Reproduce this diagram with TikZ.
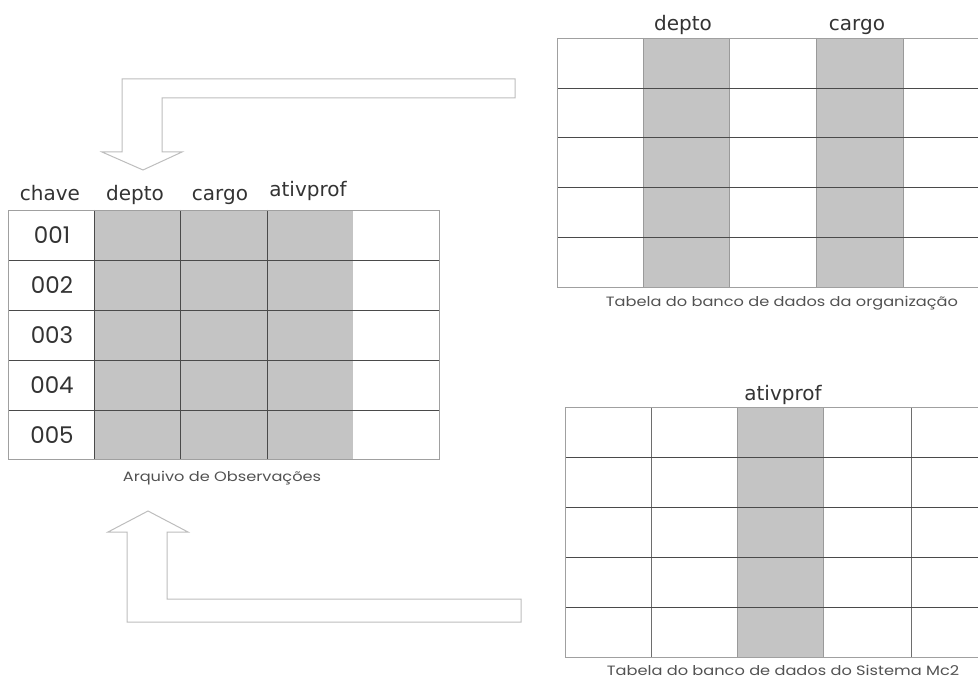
\documentclass[tikz,border=0pt]{standalone}
\usepackage{fontspec}
\setmainfont{Poppins}
\newfontfamily\hdrfont{DejaVu Sans}
\definecolor{cellgray}{HTML}{C4C4C4}
\definecolor{gridline}{HTML}{4A4A4A}
\definecolor{frameline}{HTML}{A0A0A0}
\definecolor{edgeline}{HTML}{9A9A9A}
\definecolor{arrowline}{HTML}{BDBDBD}
\definecolor{txt}{HTML}{333333}
\newcommand{\widecap}[1]{\scalebox{1.2}[1.0]{#1}}
\tikzset{
  inner/.style={draw=gridline, line width=0.9pt},
  frame/.style={draw=frameline, line width=0.9pt},
  grayedge/.style={draw=edgeline, line width=0.9pt},
  hdr/.style={font=\hdrfont\fontsize{20}{24}\selectfont, text=txt, anchor=base, inner sep=0pt},
  keytext/.style={font=\fontsize{23}{26}\selectfont, text=txt, inner sep=0pt},
  caption/.style={font=\fontsize{13.5}{16}\selectfont, text=txt!85, inner sep=0pt},
  blockarrow/.style={draw=arrowline, line width=1pt, fill=white, line join=miter}
}
\begin{document}
\begin{tikzpicture}[x=1pt,y=-1pt]
\useasboundingbox (0,0) rectangle (978,679);

% ---------- Arquivo de Observações ----------
\fill[cellgray] (94,210) rectangle (353,459);
\foreach \y in {260,310,360,410} \draw[inner] (8,\y) -- (439,\y);
\foreach \x in {94,180,267} \draw[inner] (\x,210) -- (\x,459);
\draw[frame] (8,210) rectangle (439,459);
\node[hdr] (hchave) at (50,201) {chave};
\node[hdr] (hdepto) at (135,201) {depto};
\node[hdr] (hcargo) at (220,201) {cargo};
\node[hdr] (hativ)  at (308,197) {ativprof};
\foreach \k [count=\i from 0] in {001,002,003,004,005}
  \node[keytext] (k\k) at (52,235+50*\i) {\k};
\node[caption] (obs) at (222,478) {\widecap{Arquivo de Observações}};

% ---------- Tabela da organização ----------
\fill[cellgray] (643,38) rectangle (729,287);
\fill[cellgray] (816,38) rectangle (903,287);
\foreach \x in {643,729,816,903} \draw[grayedge] (\x,38) -- (\x,287);
\foreach \y in {88,137,187,237} \draw[inner] (557,\y) -- (978,\y);
\draw[frame] (978,38) -- (557,38) -- (557,287) -- (978,287);
\node[hdr] (odepto) at (683,31) {depto};
\node[hdr] (ocargo) at (857,31) {cargo};
\node[caption] (org) at (782,303) {\widecap{Tabela do banco de dados da organização}};

% ---------- Tabela do Sistema Mc2 ----------
\fill[cellgray] (737,407) rectangle (823,657);
\foreach \x in {737,823} \draw[grayedge] (\x,407) -- (\x,657);
\foreach \x in {651,911} \draw[draw=gridline!80, line width=0.9pt] (\x,407) -- (\x,657);
\foreach \y in {457,507,557,607} \draw[inner] (565,\y) -- (978,\y);
\draw[frame] (978,407) -- (565,407) -- (565,657) -- (978,657);
\node[hdr] (mativ) at (783,400) {ativprof};
\node[caption] (mc2) at (783,670.5) {\widecap{Tabela do banco de dados do Sistema Mc2}};

% ---------- block arrows ----------
\coordinate (topstart) at (515,88.5);
\coordinate (toptip) at (143,170);
\draw[blockarrow] (topstart |- 0,79) -- (122,79) -- (122,152) -- (102,152)
  -- (toptip) -- (182,152) -- (162,152) -- (162,98) -- (topstart |- 0,98) -- cycle;

\coordinate (botstart) at (521,610.5);
\coordinate (bottip) at (148,511);
\draw[blockarrow] (botstart |- 0,622) -- (127,622) -- (127,532) -- (108,532)
  -- (bottip) -- (188,532) -- (167,532) -- (167,599) -- (botstart |- 0,599) -- cycle;
\end{tikzpicture}
\end{document}
